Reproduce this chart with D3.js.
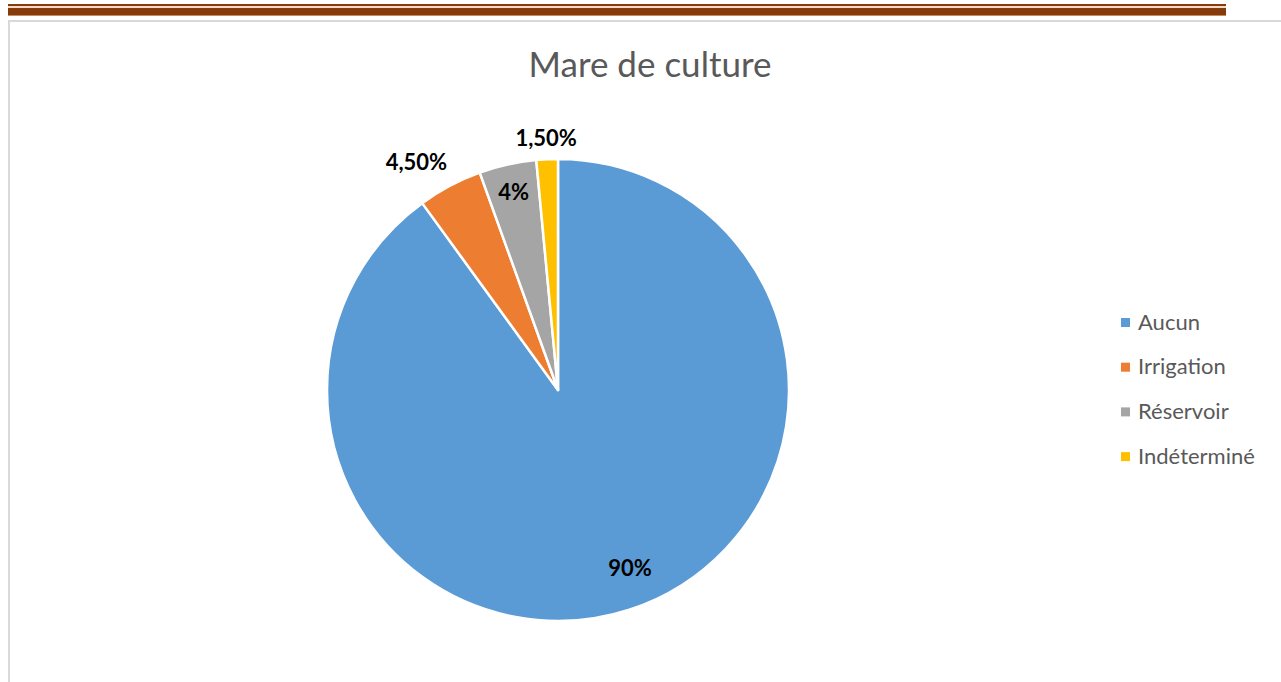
<!DOCTYPE html>
<html><head><meta charset="utf-8">
<script src="https://cdn.jsdelivr.net/npm/d3@7/dist/d3.min.js"></script>
<style>html,body{margin:0;padding:0;background:#fff;}svg{display:block;}</style>
</head><body>
<svg id="c" width="1281" height="682"></svg>
<script>
const categories = ["Aucun", "Irrigation", "Réservoir", "Indéterminé"];
const values = [90, 4.5, 4, 1.5];
const labels = ["90%", "4,50%", "4%", "1,50%"];
const colors = ["#5b9bd5", "#ed7d31", "#a5a5a5", "#ffc000"];
const title = "Mare de culture";

const svg = d3.select("#c");
const font = "Lato, 'Open Sans', sans-serif";

// top decorative rule
svg.append("rect").attr("x", 8).attr("y", 4).attr("width", 1218).attr("height", 2).attr("fill", "#843c0c");
svg.append("rect").attr("x", 8).attr("y", 6).attr("width", 1218).attr("height", 2).attr("fill", "#f4d9c6");
svg.append("rect").attr("x", 8).attr("y", 8).attr("width", 1218).attr("height", 8).attr("fill", "#843c0c");
svg.append("rect").attr("x", 8).attr("y", 15).attr("width", 1218).attr("height", 1).attr("fill", "#c9895f");

// chart frame
svg.append("path").attr("d", "M9,682 V21 H1281").attr("fill", "none").attr("stroke", "#d9d9d9").attr("stroke-width", 2);

svg.append("text").attr("x", 650).attr("y", 77).attr("text-anchor", "middle")
  .attr("font-family", font).attr("font-size", 35).attr("fill", "#595959").text(title);

const cx = 558, cy = 390, R = 231;
const pie = d3.pie().sort(null).value(d => d)(values);
const arc = d3.arc().innerRadius(0).outerRadius(R);
const g = svg.append("g").attr("transform", `translate(${cx},${cy})`);
g.selectAll("path").data(pie).join("path")
  .attr("d", arc).attr("fill", (d, i) => colors[i])
  .attr("stroke", "#fff").attr("stroke-width", 2.5).attr("stroke-linejoin", "round");

// label placement (radius, angle offset in degrees)
const place = [[192, -4], [268, -4], [203, 0], [252, 0]];
g.selectAll("text.lbl").data(pie).join("text").attr("class", "lbl")
  .each(function(d, i) {
    const a = (d.startAngle + d.endAngle) / 2 + place[i][1] * Math.PI / 180;
    const r = place[i][0];
    d3.select(this).attr("x", r * Math.sin(a)).attr("y", -r * Math.cos(a));
  })
  .attr("text-anchor", "middle").attr("dy", "0.35em")
  .attr("font-family", font).attr("font-weight", "bold").attr("font-size", 22)
  .attr("fill", "#000").text((d, i) => labels[i]);

// legend
const lg = svg.append("g");
categories.forEach((c, i) => {
  const y = 322 + i * 44.7;
  lg.append("rect").attr("x", 1121).attr("y", y - 4).attr("width", 9).attr("height", 9).attr("fill", colors[i]);
  lg.append("text").attr("x", 1138).attr("y", y).attr("dy", "0.35em")
    .attr("font-family", font).attr("font-size", 22).attr("fill", "#595959").text(c);
});
</script>
</body></html>
